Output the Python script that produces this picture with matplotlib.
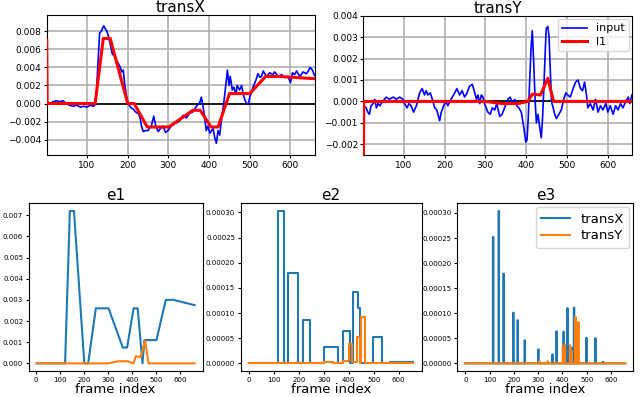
import numpy as np
import matplotlib
matplotlib.use("Agg")
import matplotlib.pyplot as plt
from matplotlib.ticker import MultipleLocator

# ---- input signals ----
inX_f = [1, 8, 16, 25, 33, 41, 49, 57, 66, 75, 84, 92, 100, 108, 115, 119,
         123, 127, 131, 135, 141, 146, 149, 153, 156, 162, 168, 172, 176, 182,
         185, 189, 193, 197, 201, 205, 209, 213, 217, 221, 226, 230, 234, 238,
         243, 250, 254, 258, 264, 269, 275, 280, 287, 293, 299, 307, 316, 322,
         328, 336, 344, 352, 361, 369, 377, 381, 385, 389, 393, 397, 402, 406,
         410, 414, 418, 422, 426, 430, 436, 441, 445, 449, 452, 457, 461, 466,
         469, 475, 480, 484, 488, 492, 496, 500, 508, 516, 520, 525, 529, 533,
         541, 549, 557, 561, 570, 578, 586, 594, 600, 605, 610, 615, 623, 631,
         639, 644, 648, 654, 659]
inX_v = [0.0000, -0.0001, 0.0002, 0.0003, 0.0002, 0.0003, 0.0000, -0.0002,
         -0.0003, -0.0002, -0.0004, -0.0003, -0.0004, -0.0002, -0.0003, -0.0002,
         0.0010, 0.0045, 0.0078, 0.0080, 0.0086, 0.0082, 0.0080, 0.0074,
         0.0068, 0.0055, 0.0052, 0.0049, 0.0045, 0.0040, 0.0035, 0.0037,
         0.0020, 0.0008, 0.0000, -0.0003, -0.0005, -0.0006, -0.0008, -0.0010,
         -0.0011, -0.0015, -0.0025, -0.0031, -0.0030, -0.0030, -0.0027, -0.0025,
         -0.0014, -0.0025, -0.0031, -0.0028, -0.0025, -0.0032, -0.0030, -0.0025,
         -0.0022, -0.0021, -0.0019, -0.0013, -0.0016, -0.0011, -0.0009, -0.0003,
         0.0001, 0.0007, -0.0003, -0.0015, -0.0030, -0.0025, -0.0033, -0.0030,
         -0.0028, -0.0038, -0.0044, -0.0030, -0.0035, -0.0020, 0.0000, 0.0020,
         0.0037, 0.0020, 0.0030, 0.0015, 0.0018, 0.0010, 0.0020, 0.0015,
         0.0020, 0.0010, 0.0004, 0.0000, -0.0001, 0.0007, 0.0018, 0.0027,
         0.0033, 0.0029, 0.0030, 0.0036, 0.0030, 0.0034, 0.0032, 0.0035,
         0.0030, 0.0032, 0.0029, 0.0030, 0.0023, 0.0034, 0.0032, 0.0036,
         0.0030, 0.0035, 0.0033, 0.0036, 0.0040, 0.0037, 0.0031]

inY_f = [1, 8, 12, 16, 20, 25, 29, 33, 37, 41, 49, 57, 65, 74, 82, 90, 98, 102,
         108, 113, 118, 124, 131, 139, 145, 151, 155, 159, 165, 170, 176, 181,
         188, 192, 198, 203, 208, 216, 225, 230, 237, 243, 249, 255, 261, 268,
         274, 278, 282, 286, 290, 294, 298, 306, 312, 317, 323, 328, 335, 341,
         347, 355, 361, 366, 372, 377, 382, 388, 394, 399, 402, 405, 408, 412,
         415, 418, 422, 425, 429, 433, 437, 440, 443, 446, 449, 453, 456, 459,
         462, 466, 470, 474, 480, 486, 492, 497, 502, 508, 515, 521, 527, 533,
         538, 543, 547, 551, 557, 564, 570, 576, 582, 588, 595, 600, 606, 613,
         619, 625, 631, 637, 644, 650, 654, 659]
inY_v = [-0.0002, -0.0003, -0.0005, -0.0006, -0.0002, -0.0001, 0.0001, -0.0003,
         -0.0001, -0.0002, 0.0000, 0.0002, 0.0001, 0.0002, 0.0001, 0.0002,
         0.0001, -0.0001, -0.0003, -0.0001, -0.0002, -0.0005, -0.0002, 0.0004,
         0.0006, 0.0003, 0.0005, 0.0003, 0.0004, 0.0001, -0.0003, -0.0004,
         -0.0009, -0.0005, -0.0002, 0.0000, -0.0002, 0.0001, 0.0004, 0.0006,
         0.0003, 0.0005, 0.0002, 0.0004, 0.0007, 0.0008, 0.0004, 0.0001,
         0.0003, -0.0001, 0.0003, 0.0002, -0.0001, -0.0005, -0.0006, -0.0003,
         -0.0004, -0.0001, -0.0007, -0.0006, -0.0003, 0.0001, 0.0002, -0.0001,
         0.0001, -0.0002, -0.0003, -0.0005, -0.0012, -0.0019, -0.0018, -0.0008,
         0.0007, 0.0025, 0.0033, 0.0020, 0.0000, -0.0010, -0.0006, -0.0012,
         -0.0017, -0.0008, 0.0005, 0.0020, 0.0034, 0.0035, 0.0030, 0.0015,
         0.0000, -0.0003, -0.0006, -0.0008, -0.0006, -0.0004, 0.0001, 0.0004,
         0.0003, 0.0002, 0.0006, 0.0009, 0.0010, 0.0006, 0.0005, 0.0009,
         0.0004, -0.0003, -0.0001, -0.0004, 0.0001, -0.0005, -0.0002, -0.0004,
         -0.0001, -0.0005, -0.0002, -0.0006, -0.0002, -0.0004, -0.0001, -0.0003,
         0.0000, 0.0002, -0.0001, 0.0003]

# ---- l1 fits (piecewise linear breakpoints) ----
l1X_f = [1, 2, 120, 140, 157, 200, 216, 248, 301, 360, 378, 405, 422, 442, 450, 500, 539, 570, 659]
l1X_v = [0.0070, 0, 0, 0.0072, 0.0072, 0, 0, -0.0026, -0.0026, -0.00075, -0.00075,
         -0.0026, -0.0026, 0, 0.0011, 0.0011, 0.0030, 0.0030, 0.00275]
l1Y_f = [1, 2, 300, 340, 380, 404, 415, 435, 453, 467, 659]
l1Y_v = [-0.004, 0, 0, -0.0001, -0.0001, 0, 0.00034, 0.0003, 0.00108, 0, 0]

# ---- e2 (step levels between edges) ----
e2X_edges = [0, 117, 140, 157, 197, 215, 244, 301, 357, 376, 407, 417, 436, 447, 498, 535, 564, 659]
e2X_levels = [0, 0.000303, 0, 0.000179, 0, 0.000087, 0, 0.000033, 0, 0.000064, 0,
              0.000142, 0.000111, 0, 0.000052, 0, 0.000003]
e2Y_edges = [0, 301, 337, 377, 400, 415, 432, 447, 451, 465, 659]
e2Y_levels = [0, 0.000003, 0, 0.000005, 0.000038, 0.000003, 0.000052, 0, 0.000092, 0]

# ---- e3 (isolated spikes) ----
e3X_frames = [114, 137, 157, 197, 215, 244, 300, 358, 375, 404, 420, 438, 447, 498, 535, 567]
e3X_heights = [0.000252, 0.000304, 0.000179, 0.000101, 0.000086, 0.000046, 0.000028,
               0.000018, 0.000064, 0.000063, 0.000110, 0.000031, 0.000111, 0.000051,
               0.000050, 0.000003]
e3Y_frames = [304, 338, 401, 409, 431, 437, 453, 465]
e3Y_heights = [0.000004, 0.000004, 0.000032, 0.000038, 0.000036, 0.000025, 0.000092, 0.000082]

n_frames = 660

fig = plt.figure(figsize=(6.4, 3.97), dpi=100)

def top_panel(rect, title, in_f, in_v, l1_f, l1_v, ylim, step, legend=False):
    ax = fig.add_axes(rect)
    ax.grid(True, color='#b0b0b0', lw=1.2)
    ax.set_axisbelow(True)
    ax.axhline(0, color='k', lw=1.2, zorder=1)
    ax.plot(in_f, in_v, color='b', lw=1.2, label='input', zorder=2)
    ax.plot(l1_f, l1_v, color='r', lw=2.2, label='l1', zorder=3)
    ax.set_xlim(1, 660)
    ax.set_ylim(*ylim)
    ax.yaxis.set_major_locator(MultipleLocator(step))
    ax.set_xticks([100, 200, 300, 400, 500, 600])
    ax.tick_params(labelsize=6.5, length=2.5, pad=1.5)
    ax.set_title(title, fontsize=11, pad=2)
    if legend:
        ax.legend(loc='upper right', fontsize=8, handlelength=2.2,
                  borderaxespad=0.3, labelspacing=0.3)
    return ax

top_panel([0.073, 0.6096, 0.419, 0.3526], 'transX', inX_f, inX_v, l1X_f, l1X_v,
          (-0.0057, 0.0098), 0.002)
top_panel([0.5677, 0.6096, 0.4203, 0.3509], 'transY', inY_f, inY_v, l1Y_f, l1Y_v,
          (-0.0025, 0.004), 0.001, legend=True)

def spikes(frames, heights):
    y = np.zeros(n_frames)
    for f, h in zip(frames, heights):
        y[f:f + 2] = h
    return y

frames = np.arange(n_frames)
e1X = np.abs(l1X_v[1:])
e1Y = np.abs(l1Y_v[1:])

rects = [[0.045, 0.0655, 0.2715, 0.4224],
         [0.376, 0.0655, 0.2828, 0.4224],
         [0.7145, 0.0655, 0.275, 0.4224]]

ax1 = fig.add_axes(rects[0])
ax1.plot(l1X_f[1:], e1X, label='transX')
ax1.plot(l1Y_f[1:], e1Y, label='transY')
ax1.set_title('e1', fontsize=11, pad=2)

ax2 = fig.add_axes(rects[1])
ax2.step(e2X_edges, e2X_levels + [e2X_levels[-1]], where='post', label='transX')
ax2.step(e2Y_edges, e2Y_levels + [e2Y_levels[-1]], where='post', label='transY')
ax2.set_title('e2', fontsize=11, pad=2)

ax3 = fig.add_axes(rects[2])
ax3.step(frames, spikes(e3X_frames, e3X_heights), where='post', label='transX')
ax3.step(frames, spikes(e3Y_frames, e3Y_heights), where='post', label='transY')
ax3.set_title('e3', fontsize=11, pad=2)
ax3.legend(loc='upper right', fontsize=9.5, handlelength=2.2,
           borderaxespad=0.3, labelspacing=0.3)

for ax in (ax1, ax2, ax3):
    ax.set_xticks([0, 100, 200, 300, 400, 500, 600])
    ax.tick_params(labelsize=5, length=2.5, pad=1.5)
    ax.set_xlabel('frame index', fontsize=9.5, labelpad=0)

fig.savefig('out.png', dpi=100)
